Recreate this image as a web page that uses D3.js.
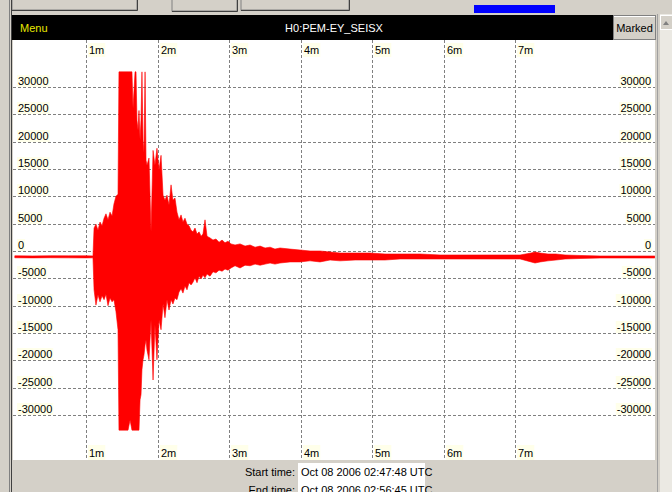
<!DOCTYPE html>
<html>
<head>
<meta charset="utf-8">
<script src="https://cdn.jsdelivr.net/npm/d3@7"></script>
<style>
  body { margin: 0; background: #d4d0c8; }
  svg { display: block; font-family: "Liberation Sans", Arial, sans-serif; font-size: 11px; }
</style>
</head>
<body>
<div id="chart"></div>
<script>
// channel + time info
const channelName = 'H0:PEM-EY_SEISX';
const startTime = 'Oct 08 2006 02:47:48 UTC';
const endTime = 'Oct 08 2006 02:56:45 UTC';
const durationSec = 537;

const minuteTicks = [60, 120, 180, 240, 300, 360, 420];
const minuteLabels = ['1m', '2m', '3m', '4m', '5m', '6m', '7m'];
const countTicks = [30000, 25000, 20000, 15000, 10000, 5000, 0, -5000, -10000, -15000, -20000, -25000, -30000];

// trace envelope (per display column group): time in s, max / min in counts
const tSec = [0, 15, 30, 45, 60, 65.6, 66.5, 68.1, 69.8, 71.5, 73.2, 74.9, 76.5, 78.2, 79.9, 81.6, 83.2, 84.9, 86.6,
  87.4, 88.3, 91.6, 95.0, 96.7, 98.3, 99.2, 100.9, 101.7, 102.5, 103.4, 104.2, 105.1, 105.9, 106.7, 107.6, 108.4,
  109.3, 110.1, 110.9, 112.6, 114.3, 116.0, 117.6, 119.3, 121.0, 122.7, 124.4, 126.0, 127.7, 129.4, 131.1, 132.7,
  134.4, 136.1, 137.8, 139.5, 141.1, 142.8, 144.5, 146.2, 147.9, 149.5, 151.2, 152.9, 154.6, 156.3, 157.9, 159.6,
  161.3, 163.8, 166.3, 168.8, 171.4, 173.9, 176.4, 178.9, 181.4, 184.8, 189.0, 193.2, 197.4, 201.6, 205.8, 210.0,
  214.2, 218.3, 222.5, 230.9, 239.3, 247.7, 256.1, 264.5, 272.9, 285.5, 298.1, 310.6, 323.2, 340.0, 356.8, 373.6,
  390.4, 407.2, 424.0, 433.2, 436.5, 440.8, 447.4, 454.1, 461.7, 474.3, 491.1, 507.8, 524.6, 537];
const maxCounts = [-880, -900, -870, -890, -880, -900, 4200, 4900, 3800, 5300, 4600, 6000, 6800, 5700, 7100, 6400, 8600, 10000, 10400,
  32767, 32767, 32767, 32767, 32767, 32767, 26100, 32767, 32767, 23900, 22100, 25700, 20300, 24000, 32767, 20300, 18000,
  32767, 16600, 15700, 17000, 3500, 18400, 15700, 18800, 14800, 17500, 10200, 9300, 10200, 8400, 12100, 9300,
  9700, 7100, 5700, 6600, 5300, 6000, 4900, 4600, 3800, 3500, 4200, 3100, 3500, 2700, 3100, 5700,
  2700, 2400, 2000, 2200, 1600, 2000, 1500, 1800, 1300, 1100, 1300, 900, 1100, 700, 900, 550,
  700, 350, 550, 350, 180, 0, 0, -180, -370, -370, -370, -550, -550, -550, -730, -730,
  -730, -730, -730, -370, -180, -370, -550, -550, -730, -820, -910, -910, -910, -910];
const minCounts = [-1240, -1260, -1230, -1250, -1260, -1250, -7100, -9900, -8000, -9300, -8200, -8900, -7900, -10000, -8600, -9300, -8900, -11100, -14400,
  -32768, -32768, -32768, -32768, -30900, -32768, -32768, -32768, -32768, -32768, -32768, -32768, -27200, -26300, -21700, -19900, -19000,
  -17200, -16300, -18100, -19900, -12600, -23600, -13500, -19900, -12600, -14400, -9700, -12200, -8900, -10800, -8900, -9700,
  -8600, -8900, -7500, -6900, -7700, -6400, -7100, -5800, -6200, -5700, -4900, -5800, -4600, -5100, -4400, -4900,
  -4200, -4600, -3800, -4000, -3500, -3700, -3300, -3500, -3100, -2700, -3100, -2600, -2700, -2400, -2600, -2400,
  -2200, -2400, -2200, -2000, -2000, -1800, -2000, -1650, -1800, -1650, -1650, -1650, -1460, -1460, -1460, -1460,
  -1460, -1460, -1460, -2000, -2200, -2000, -1800, -1650, -1460, -1370, -1280, -1280, -1280, -1280];

const W = 672, H = 492;
const plot = {left: 13, right: 655, top: 40, bottom: 460};

const svg = d3.select('#chart').append('svg').attr('width', W).attr('height', H);

svg.append('rect').attr('width', W).attr('height', H).attr('fill', '#d4d0c8');

// toolbar bits at the top (cut off by the window)
const buttons = [[12, 137, 10], [172, 237, 11], [241, 349, 10]];
buttons.forEach(b => {
  svg.append('rect').attr('x', b[0]).attr('y', -4).attr('width', b[1] - b[0]).attr('height', b[2] + 4)
    .attr('fill', '#d4d0c8').attr('stroke', '#808080');
  svg.append('line').attr('x1', b[0]).attr('x2', b[1] + 0.5).attr('y1', b[2] + 0.5).attr('y2', b[2] + 0.5).attr('stroke', '#404040');
  svg.append('line').attr('x1', b[1] + 0.5).attr('x2', b[1] + 0.5).attr('y1', -4).attr('y2', b[2] + 0.5).attr('stroke', '#404040');
});
svg.append('rect').attr('x', 474).attr('y', 5).attr('width', 81).attr('height', 8).attr('fill', '#0000ff');

// left window edge
svg.append('line').attr('x1', 9.5).attr('x2', 9.5).attr('y1', 0).attr('y2', H).attr('stroke', '#808080');
svg.append('line').attr('x1', 11.5).attr('x2', 11.5).attr('y1', 0).attr('y2', H).attr('stroke', '#404040');

// right scrollbar
svg.append('line').attr('x1', 657.5).attr('x2', 657.5).attr('y1', 14).attr('y2', H).attr('stroke', '#a0a0a0');
svg.append('rect').attr('x', 660).attr('y', 14).attr('width', 12).attr('height', H - 14).attr('fill', '#ebe9e3');
svg.append('rect').attr('x', 660.5).attr('y', 15.5).attr('width', 12).attr('height', 14)
  .attr('fill', '#d4d0c8').attr('stroke', '#ffffff');
svg.append('path').attr('d', 'M663,25 L666,21 L669,25 Z').attr('fill', '#808080');

// title bar
svg.append('rect').attr('x', 12).attr('y', 15).attr('width', 601).attr('height', 25).attr('fill', '#000');
svg.append('text').attr('x', 20).attr('y', 32).attr('fill', '#e8e800').text('Menu');
svg.append('text').attr('x', 334).attr('y', 32).attr('fill', '#fff').attr('text-anchor', 'middle').text(channelName);
svg.append('rect').attr('x', 613.5).attr('y', 15.5).attr('width', 42).attr('height', 24)
  .attr('fill', '#d4d0c8').attr('stroke', '#808080');
svg.append('line').attr('x1', 614).attr('x2', 655).attr('y1', 16.5).attr('y2', 16.5).attr('stroke', '#fff');
svg.append('text').attr('x', 634.5).attr('y', 32).attr('text-anchor', 'middle').attr('fill', '#000').text('Marked');

// plot area
svg.append('rect').attr('x', plot.left).attr('y', plot.top).attr('width', plot.right - plot.left)
  .attr('height', plot.bottom - plot.top).attr('fill', '#fff');

const x = d3.scaleLinear().domain([0, durationSec]).range([14.8, 654.8]);
const y = d3.scaleLinear().domain([-30000, 30000]).range([415, 87]);

svg.append('clipPath').attr('id', 'clip').append('rect')
  .attr('x', plot.left).attr('y', plot.top).attr('width', plot.right - plot.left).attr('height', plot.bottom - plot.top);

const grid = svg.append('g').attr('stroke', '#808080').attr('stroke-dasharray', '3,2');
grid.selectAll('line.v').data(minuteTicks).enter().append('line')
  .attr('x1', d => Math.round(x(d)) + 0.5).attr('x2', d => Math.round(x(d)) + 0.5)
  .attr('y1', plot.top).attr('y2', plot.bottom);
grid.selectAll('line.h').data(countTicks).enter().append('line')
  .attr('y1', d => Math.round(y(d)) + 0.5).attr('y2', d => Math.round(y(d)) + 0.5)
  .attr('x1', plot.left).attr('x2', plot.right);

// the trace, drawn as min/max envelope like the viewer does
const idx = d3.range(tSec.length);
const area = d3.area()
  .x(i => x(tSec[i]))
  .y0(i => y(minCounts[i]))
  .y1(i => y(maxCounts[i]));
svg.append('path').attr('clip-path', 'url(#clip)')
  .attr('d', area(idx)).attr('fill', '#ff0000').attr('stroke', '#ff0000').attr('stroke-width', 0.6);

// labels with cream boxes
const cream = '#ffffea';
function boxLabel(g, tx, ty, txt, anchor, boxTop, boxBot) {
  const t = g.append('text').attr('x', tx).attr('y', ty).attr('text-anchor', anchor).attr('fill', '#000').text(txt);
  const w = t.node().getComputedTextLength();
  const x0 = anchor === 'end' ? tx - w - 1 : tx - 1;
  g.insert('rect', 'text').attr('x', x0).attr('y', boxTop).attr('width', w + 2).attr('height', boxBot - boxTop)
    .attr('fill', cream);
}

const labels = svg.append('g');
countTicks.forEach(v => {
  const gy = Math.round(y(v));
  const gl = labels.append('g');
  boxLabel(gl, 18, gy - 2, String(v), 'start', gy - 12, gy);
  const gr = labels.append('g');
  boxLabel(gr, 651, gy - 2, String(v), 'end', gy - 12, gy);
});
minuteTicks.forEach((t, i) => {
  const gx = Math.round(x(t)) + 1;
  const gt = labels.append('g');
  boxLabel(gt, gx + 2, 54, minuteLabels[i], 'start', 43, 57);
  const gb = labels.append('g');
  boxLabel(gb, gx + 2, 457, minuteLabels[i], 'start', 445, 460);
});

// start / end time fields below the plot (end row is cut by the window, as in the viewer)
svg.append('rect').attr('x', 298).attr('y', 463).attr('width', 127).attr('height', 40).attr('fill', '#fff');
svg.append('text').attr('x', 295).attr('y', 476).attr('text-anchor', 'end').text('Start time:');
svg.append('text').attr('x', 301).attr('y', 476).text(startTime);
svg.append('text').attr('x', 295).attr('y', 494).attr('text-anchor', 'end').text('End time:');
svg.append('text').attr('x', 301).attr('y', 494).text(endTime);
</script>
</body>
</html>
